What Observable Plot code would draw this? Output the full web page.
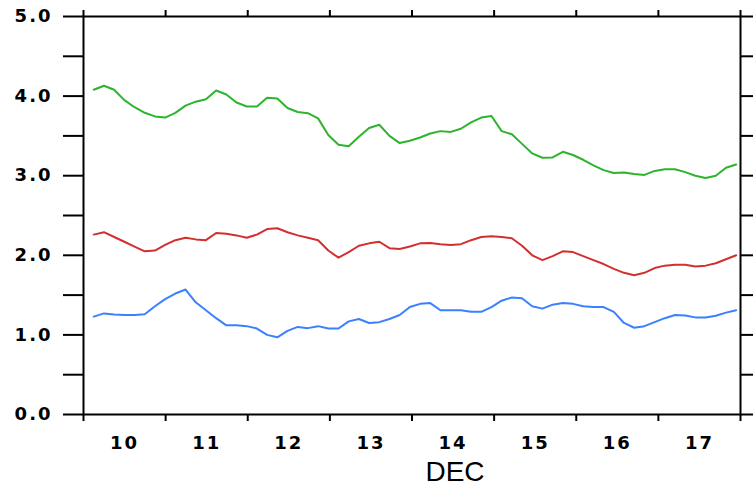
<!DOCTYPE html>
<html><head><meta charset="utf-8">
<script src="https://cdn.jsdelivr.net/npm/d3@7"></script>
<script src="https://cdn.jsdelivr.net/npm/@observablehq/plot@0.6"></script>
<style>body{margin:0;background:#fff}</style>
</head><body><div id="chart"></div>
<script>
// time axis: hours after 10 DEC 00Z
const startHour = 3;
const stepHours = 2.98;

const greenSeries = [4.08,4.13,4.08,3.95,3.86,3.79,3.745,3.73,3.79,3.88,3.93,3.96,4.07,4.02,3.92,3.87,
  3.87,3.98,3.97,3.85,3.80,3.785,3.72,3.51,3.39,3.37,3.49,3.60,3.64,3.50,3.41,3.44,
  3.48,3.53,3.56,3.55,3.59,3.67,3.73,3.75,3.56,3.52,3.40,3.28,3.225,3.23,3.30,3.26,
  3.20,3.13,3.07,3.035,3.04,3.02,3.01,3.06,3.08,3.08,3.045,3.00,2.97,3.00,3.10,3.14];
const redSeries = [2.26,2.29,2.23,2.17,2.11,2.05,2.06,2.13,2.19,2.22,2.20,2.19,2.28,2.27,2.25,2.22,
  2.26,2.33,2.34,2.29,2.25,2.22,2.19,2.06,1.97,2.04,2.12,2.15,2.17,2.09,2.08,2.11,
  2.15,2.155,2.14,2.13,2.14,2.19,2.23,2.24,2.23,2.215,2.12,2.00,1.94,1.99,2.05,2.04,
  1.99,1.94,1.89,1.83,1.78,1.75,1.78,1.84,1.87,1.88,1.88,1.86,1.87,1.90,1.95,2.00];
const blueSeries = [1.23,1.27,1.255,1.25,1.25,1.26,1.36,1.45,1.52,1.57,1.41,1.31,1.21,1.12,1.12,1.11,
  1.08,1.00,0.97,1.05,1.10,1.085,1.11,1.08,1.08,1.17,1.20,1.15,1.16,1.20,1.25,1.35,
  1.39,1.40,1.31,1.31,1.31,1.29,1.29,1.35,1.43,1.47,1.46,1.36,1.33,1.38,1.40,1.39,
  1.36,1.35,1.35,1.29,1.15,1.09,1.11,1.16,1.21,1.25,1.245,1.22,1.22,1.24,1.28,1.31];

const seriesNames = ["series A", "series B", "series C"];
const seriesColors = ["#2db42d", "#d2302f", "#3a80ff"];

const dayTicks = [10, 11, 12, 13, 14, 15, 16, 17, 18];
const labelDays = [10.5, 11.5, 12.5, 13.5, 14.5, 15.5, 16.5, 17.5];
const dayLabels = ["10", "11", "12", "13", "14", "15", "16", "17"];
const yTicks = [0, 0.5, 1, 1.5, 2, 2.5, 3, 3.5, 4, 4.5, 5];
const monthLabel = "DEC";

const rows = [];
[greenSeries, redSeries, blueSeries].forEach((vals, s) => {
  vals.forEach((v, i) => rows.push({series: seriesNames[s], day: 10 + (startHour + i * stepHours) / 24, value: v}));
});

const tickFont = {fontFamily: "DejaVu Sans", fontWeight: "bold", fontSize: 18};

const chart = Plot.plot({
  width: 753, height: 488,
  marginLeft: 83, marginRight: 13, marginTop: 16, marginBottom: 74,
  x: {domain: [10, 18]},
  y: {domain: [0, 5]},
  color: {type: "ordinal", domain: seriesNames, range: seriesColors},
  style: {background: "#fff", color: "#000", fontFamily: "DejaVu Sans"},
  marks: [
    Plot.line(rows, {x: "day", y: "value", z: "series", stroke: "series", strokeWidth: 2}),
    Plot.frame({stroke: "#000", strokeWidth: 2}),
    Plot.axisY({anchor: "left", ticks: yTicks, tickSize: 20, tickPadding: 11, strokeWidth: 2, label: null,
      tickFormat: d => Number.isInteger(d) ? d.toFixed(1) : "", ...tickFont}),
    Plot.axisY({anchor: "right", ticks: yTicks, tickSize: 20, strokeWidth: 2, label: null, tickFormat: () => ""}),
    Plot.axisX({anchor: "bottom", ticks: dayTicks, tickSize: 7, strokeWidth: 2, label: null, tickFormat: () => ""}),
    Plot.axisX({anchor: "top", ticks: dayTicks, tickSize: 7, strokeWidth: 2, label: null, tickFormat: () => ""}),
    Plot.text(dayLabels, {x: labelDays, text: d => d, frameAnchor: "bottom", lineAnchor: "top", dy: 22, ...tickFont, fill: "#000"}),
    Plot.text([monthLabel], {frameAnchor: "bottom", dx: 43, dy: 66, fontSize: 28, fontFamily: "Liberation Sans", fill: "#000"})
  ]
});
chart.querySelectorAll('[aria-label="y-axis tick label"] text, [aria-label="text"] text').forEach(t => {
  if (t.textContent !== monthLabel) t.style.letterSpacing = "2px";
});
document.getElementById("chart").appendChild(chart);
</script>
</body></html>
